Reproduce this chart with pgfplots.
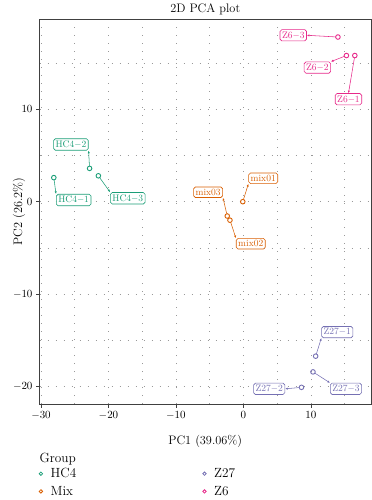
\documentclass[border=0pt]{standalone}
\usepackage{pgfplots}
\pgfplotsset{compat=1.18}
\usetikzlibrary{arrows.meta}
\definecolor{cHC}{HTML}{1B9E77}
\definecolor{cMix}{HTML}{D95F02}
\definecolor{cZa}{HTML}{7570B3}
\definecolor{cZb}{HTML}{E7298A}
\newcommand{\lbfont}{\fontsize{12.3}{14}\selectfont}
\tikzset{
  lab/.style={draw=#1, text=#1, fill=white, rounded corners=1.8pt, line width=0.6pt,
              inner xsep=2pt, inner ysep=2pt, font=\fontsize{9.5}{10}\selectfont},
  con/.style={draw=#1, line width=0.55pt, shorten <=2.4pt, -{Latex[length=2.6pt,width=2.2pt]}},
}
\begin{document}
\begin{tikzpicture}
\begin{axis}[
  scale only axis, width=331.5pt, height=385pt,
  xmin=-30.22, xmax=18.9, ymin=-21.87, ymax=19.75,
  xtick={-30,-20,-10,0,10}, ytick={-20,-10,0,10},
  minor xtick={-25,-15,-5,5,15}, minor ytick={-15,-5,5,15},
  grid=both,
  major grid style={gray!80, line width=0.7pt, dash pattern=on 0.7pt off 7.3pt},
  minor grid style={gray!80, line width=0.7pt, dash pattern=on 0.7pt off 7.3pt},
  tick align=outside, major tick length=3.5pt, minor tick length=0pt,
  xtick pos=left, ytick pos=left,
  axis line style={black!75, line width=0.8pt},
  every tick/.style={black!75, line width=0.8pt},
  tick label style={font=\fontsize{10.8}{13}\selectfont},
  every axis title/.style={font=\lbfont, at={(axis description cs:0.5,1)}, anchor=base, yshift=6.5pt},
  title={2D PCA plot},
  xlabel={PC1 (39.06\%)}, ylabel={PC2 (26.2\%)},
  every axis x label/.style={at={(axis description cs:0.5,0)}, anchor=center, yshift=-37pt, font=\lbfont},
  every axis y label/.style={at={(axis description cs:0,0.5)}, xshift=-20.5pt, rotate=90, anchor=center, font=\lbfont},
  legend style={at={(axis description cs:-0.0105,-0.156)}, anchor=north west,
    draw=none, fill=none, font=\fontsize{13.3}{15}\selectfont, row sep=3pt,
    /tikz/every odd column/.append style={column sep=6pt},
    /tikz/every even column/.append style={column sep=124.5pt}},
  legend columns=2, transpose legend, legend cell align=left,
  legend image code/.code={\draw[#1, mark size=1.7pt, line width=0.8pt] plot coordinates {(0.1cm,0cm)};},
]
\coordinate (SW) at (rel axis cs:0,0);
\coordinate (NE) at (rel axis cs:1,1);
\addplot[only marks, mark=o, color=cHC, mark size=2.3pt, line width=0.9pt]
  coordinates {(-28.1,2.6) (-22.8,3.6) (-21.5,2.8)};
\addlegendentry{HC4}
\addplot[only marks, mark=o, color=cMix, mark size=2.3pt, line width=0.9pt]
  coordinates {(-0.1,0.0) (-2.0,-2.0) (-2.4,-1.55)};
\addlegendentry{Mix}
\addplot[only marks, mark=o, color=cZa, mark size=2.3pt, line width=0.9pt]
  coordinates {(10.7,-16.7) (8.6,-20.07) (10.3,-18.4)};
\addlegendentry{Z27}
\addplot[only marks, mark=o, color=cZb, mark size=2.3pt, line width=0.9pt]
  coordinates {(16.5,15.8) (15.26,15.8) (14.0,17.8)};
\addlegendentry{Z6}

\node[lab=cHC] (h1) at (axis cs:-25.16,0.18) {HC4$-$1};
\node[lab=cHC] (h2) at (axis cs:-25.56,6.18) {HC4$-$2};
\node[lab=cHC] (h3) at (axis cs:-17.14,0.37) {HC4$-$3};
\draw[con=cHC] (axis cs:-28.1,2.6) -- (h1.north west);
\draw[con=cHC] (axis cs:-22.8,3.6) -- (h2.south east);
\draw[con=cHC] (axis cs:-21.5,2.8) -- (h3.north west);

\node[lab=cMix] (m1) at (axis cs:2.93,2.53) {mix01};
\node[lab=cMix] (m2) at (axis cs:1.08,-4.54) {mix02};
\node[lab=cMix] (m3) at (axis cs:-5.23,1.02) {mix03};
\draw[con=cMix] (axis cs:-0.1,0.0) -- (m1.south west);
\draw[con=cMix] (axis cs:-2.0,-2.0) -- (m2.north west);
\draw[con=cMix] (axis cs:-2.4,-1.55) -- (m3.south east);

\node[lab=cZa] (a1) at (axis cs:13.9,-14.1) {Z27$-$1};
\node[lab=cZa] (a2) at (axis cs:3.82,-20.23) {Z27$-$2};
\node[lab=cZa] (a3) at (axis cs:15.19,-20.23) {Z27$-$3};
\draw[con=cZa] (axis cs:10.7,-16.7) -- (a1.south west);
\draw[con=cZa] (axis cs:8.6,-20.07) -- (a2.east);
\draw[con=cZa] (axis cs:10.3,-18.4) -- (a3.north west);

\node[lab=cZb] (b1) at (axis cs:15.56,11.08) {Z6$-$1};
\node[lab=cZb] (b2) at (axis cs:10.96,14.5) {Z6$-$2};
\node[lab=cZb] (b3) at (axis cs:7.38,17.99) {Z6$-$3};
\draw[con=cZb] (axis cs:16.5,15.8) -- (b1.north);
\draw[con=cZb] (axis cs:15.26,15.8) -- (b2.north east);
\draw[con=cZb] (axis cs:14.0,17.8) -- (b3.east);
\end{axis}
\node[anchor=base west, font=\fontsize{13.3}{15}\selectfont, inner sep=0pt] at ([yshift=-58.5pt]SW) {Group};
\pgfresetboundingbox
\path ([shift={(-39.5pt,-96pt)}]SW) rectangle ([shift={(0.8pt,19pt)}]NE);
\end{tikzpicture}
\end{document}
